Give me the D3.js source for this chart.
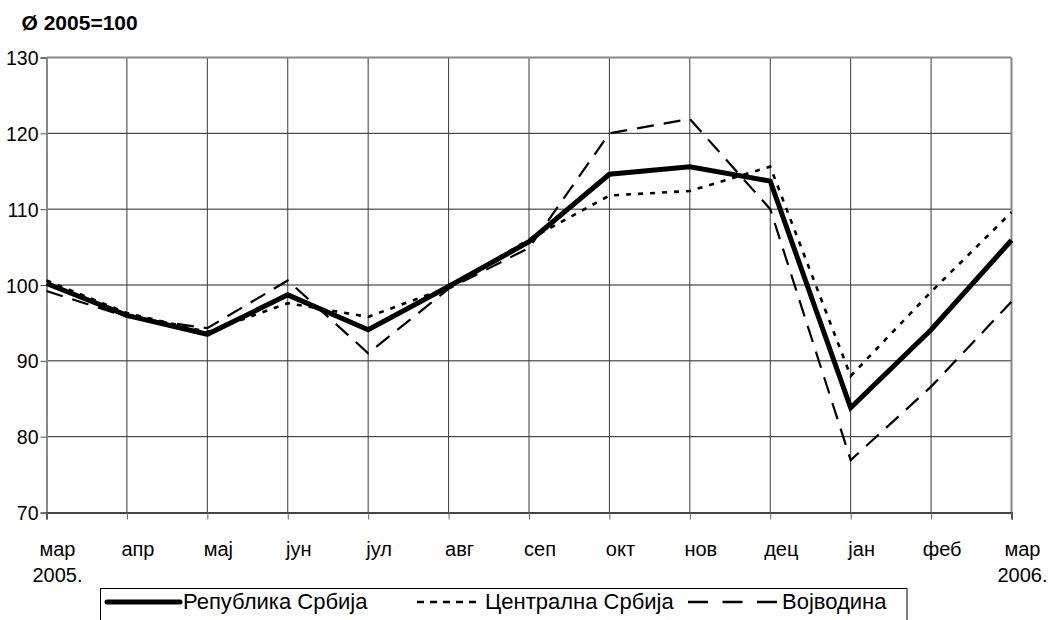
<!DOCTYPE html>
<html>
<head>
<meta charset="utf-8">
<script src="https://cdn.jsdelivr.net/npm/d3@7/dist/d3.min.js"></script>
<style>
  html, body { margin: 0; padding: 0; background: #fff; }
  svg { display: block; font-family: "Liberation Sans", Arial, sans-serif; }
</style>
</head>
<body>
<svg id="chart" width="1052" height="620"></svg>
<script>
// ---- data ----
const monthsTop = ["мар", "апр", "мај", "јун", "јул", "авг", "сеп", "окт", "нов", "дец", "јан", "феб", "мар"];
const monthsBottom = ["2005.", "", "", "", "", "", "", "", "", "", "", "", "2006."];
const srbija    = [100.2, 96.0, 93.5, 98.7, 94.1, 99.8, 105.7, 114.6, 115.6, 113.7, 83.8, 94.1, 105.9];
const centralna = [100.6, 96.3, 93.8, 97.6, 95.8, 99.7, 106.0, 111.8, 112.4, 115.6, 88.0, 99.1, 109.6];
const vojvodina = [99.2, 95.8, 94.3, 100.6, 91.0, 99.5, 104.9, 120.0, 121.9, 110.0, 76.9, 86.6, 97.8];
const yTicks = [70, 80, 90, 100, 110, 120, 130];
const seriesNames = ["Република Србија", "Централна Србија", "Војводина"];
const titleText = "Ø 2005=100";

// ---- layout ----
const L = 46.5, R = 1011.5, T = 57.5, B = 512.5;
const svg = d3.select("#chart");

const x = d3.scalePoint().domain(d3.range(monthsTop.length)).range([L, R]);
const y = d3.scaleLinear().domain([70, 130]).range([B, T]);

// title
svg.append("text").attr("x", 21.5).attr("y", 30)
  .attr("font-weight", "bold").attr("font-size", 21).attr("fill", "#000")
  .text(titleText);

// horizontal grid
svg.append("g").selectAll("line").data(yTicks.filter(v => v > 70 && v < 130)).join("line")
  .attr("x1", L).attr("x2", R)
  .attr("y1", d => y(d)).attr("y2", d => y(d))
  .attr("stroke", "#222").attr("stroke-width", 1);

// vertical grid
svg.append("g").selectAll("line").data(d3.range(1, monthsTop.length - 1)).join("line")
  .attr("x1", d => x(d)).attr("x2", d => x(d))
  .attr("y1", T).attr("y2", B)
  .attr("stroke", "#3a3a3a").attr("stroke-width", 1);

// frame top & right
svg.append("line").attr("x1", L).attr("x2", R).attr("y1", T).attr("y2", T)
  .attr("stroke", "#888").attr("stroke-width", 2);
svg.append("line").attr("x1", R).attr("x2", R).attr("y1", T).attr("y2", B)
  .attr("stroke", "#888").attr("stroke-width", 2);

// y axis
const yAxis = d3.axisLeft(y).tickValues(yTicks).tickSize(6).tickPadding(2).tickFormat(d3.format("d"));
const gy = svg.append("g").attr("transform", `translate(${L},0)`).call(yAxis);
gy.select(".domain").attr("stroke", "#888").attr("stroke-width", 2);
gy.selectAll(".tick line").attr("stroke", "#555").attr("stroke-width", 1);
gy.selectAll(".tick text").attr("font-size", 19.5).attr("fill", "#000")
  .attr("font-family", "Liberation Sans, Arial, sans-serif").attr("dy", "0.36em");

// x axis
const xAxis = d3.axisBottom(x).tickSize(7).tickFormat(() => "");
const gx = svg.append("g").attr("transform", `translate(0,${B})`).call(xAxis);
gx.select(".domain").attr("stroke", "#444").attr("stroke-width", 2);
gx.selectAll(".tick line").attr("stroke", "#666").attr("stroke-width", 1);

// x labels (two lines)
const xl = svg.append("g").attr("font-size", 20).attr("fill", "#000").attr("text-anchor", "middle");
xl.selectAll("text.t1").data(monthsTop).join("text").attr("class", "t1")
  .attr("x", (d, i) => x(i) + 11).attr("y", 556).text(d => d);
xl.selectAll("text.t2").data(monthsBottom).join("text").attr("class", "t2")
  .attr("x", (d, i) => x(i) + 11).attr("y", 582).text(d => d);

// lines
const line = d3.line().x((d, i) => x(i)).y(d => y(d));
const styles = [
  { data: srbija, w: 5, dash: null },
  { data: centralna, w: 2.6, dash: "5,7" },
  { data: vojvodina, w: 2.2, dash: "17,10" }
];
// draw in order: dashed, dotted, solid on top
[2, 1, 0].forEach(k => {
  const s = styles[k];
  svg.append("path").datum(s.data).attr("d", line)
    .attr("fill", "none").attr("stroke", "#000")
    .attr("stroke-width", s.w).attr("stroke-linejoin", "miter")
    .attr("stroke-dasharray", s.dash);
});

// legend
const lg = svg.append("g");
lg.append("rect").attr("x", 100.5).attr("y", 588.5).attr("width", 806.5).attr("height", 40)
  .attr("fill", "#fff").attr("stroke", "#000").attr("stroke-width", 1);
const legendItems = [
  { x1: 107, x2: 180, tx: 183, w: 5, dash: null },
  { x1: 417, x2: 479, tx: 485, w: 2.6, dash: "7,6" },
  { x1: 688, x2: 777, tx: 782, w: 2.6, dash: "20,14.5" }
];
legendItems.forEach((it, i) => {
  lg.append("line").attr("x1", it.x1).attr("x2", it.x2).attr("y1", 602).attr("y2", 602)
    .attr("stroke", "#000").attr("stroke-width", it.w).attr("stroke-dasharray", it.dash)
    .attr("stroke-linecap", i === 0 ? "round" : "butt");
  lg.append("text").attr("x", it.tx).attr("y", 609).attr("font-size", 22).attr("fill", "#000")
    .text(seriesNames[i]);
});
</script>
</body>
</html>
